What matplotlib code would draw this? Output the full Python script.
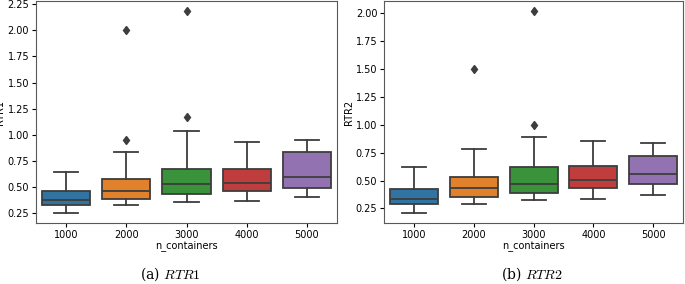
import matplotlib
matplotlib.use("Agg")
import matplotlib.pyplot as plt
import seaborn as sns

CATEGORIES = ["1000", "2000", "3000", "4000", "5000"]

# RTR1 box statistics
RTR1_WHISLO = [0.247, 0.323, 0.358, 0.365, 0.403]
RTR1_Q1 = [0.323, 0.381, 0.432, 0.461, 0.492]
RTR1_MED = [0.371, 0.457, 0.524, 0.537, 0.598]
RTR1_Q3 = [0.464, 0.575, 0.671, 0.668, 0.830]
RTR1_WHISHI = [0.645, 0.837, 1.038, 0.929, 0.952]
RTR1_FLIERS = [[], [0.948, 2.008], [1.172, 2.183], [], []]

# RTR2 box statistics
RTR2_WHISLO = [0.211, 0.292, 0.324, 0.333, 0.372]
RTR2_Q1 = [0.289, 0.351, 0.393, 0.429, 0.465]
RTR2_MED = [0.333, 0.432, 0.468, 0.504, 0.563]
RTR2_Q3 = [0.423, 0.536, 0.626, 0.632, 0.722]
RTR2_WHISHI = [0.620, 0.787, 0.895, 0.853, 0.835]
RTR2_FLIERS = [[], [1.498], [1.000, 2.020], [], []]

plt.rcParams["mathtext.fontset"] = "cm"

colors = sns.color_palette("tab10", 5, desat=0.75)
edge = (0.24, 0.24, 0.24)


def draw(ax, lo, q1, med, q3, hi, fliers, ylabel, ylim, yticks):
    stats = []
    for i, name in enumerate(CATEGORIES):
        stats.append({"whislo": lo[i], "q1": q1[i], "med": med[i], "q3": q3[i],
                      "whishi": hi[i], "fliers": fliers[i], "label": name})
    bp = ax.bxp(stats, positions=range(len(CATEGORIES)), widths=0.8, patch_artist=True,
                boxprops=dict(edgecolor=edge, linewidth=1.3),
                medianprops=dict(color=edge, linewidth=1.3),
                whiskerprops=dict(color=edge, linewidth=1.3),
                capprops=dict(color=edge, linewidth=1.3),
                flierprops=dict(marker="d", markerfacecolor=edge, markeredgecolor=edge,
                                markersize=4.5))
    for patch, c in zip(bp["boxes"], colors):
        patch.set_facecolor(c)
    for cap in bp["caps"]:
        x = cap.get_xdata()
        m = (x[0] + x[1]) / 2
        cap.set_xdata([m - 0.2, m + 0.2])
    ax.set_xlim(-0.5, 4.5)
    ax.set_ylim(*ylim)
    ax.set_yticks(yticks)
    ax.set_xticks(range(len(CATEGORIES)))
    ax.set_xticklabels(CATEGORIES)
    ax.tick_params(labelsize=7, length=3, width=0.8, pad=2)
    ax.set_xlabel("n_containers", fontsize=7, labelpad=0)
    ax.set_ylabel(ylabel, fontsize=7, labelpad=1.5)
    for s in ax.spines.values():
        s.set_linewidth(0.8)
        s.set_color("0.35")


fig = plt.figure(figsize=(6.85, 2.84), dpi=100)
ax1 = fig.add_axes([0.0526, 0.215, 0.4394, 0.781])
ax2 = fig.add_axes([0.561, 0.215, 0.436, 0.781])

draw(ax1, RTR1_WHISLO, RTR1_Q1, RTR1_MED, RTR1_Q3, RTR1_WHISHI, RTR1_FLIERS,
     "RTR1", (0.154, 2.28), [0.25, 0.5, 0.75, 1.0, 1.25, 1.5, 1.75, 2.0, 2.25])
draw(ax2, RTR2_WHISLO, RTR2_Q1, RTR2_MED, RTR2_Q3, RTR2_WHISHI, RTR2_FLIERS,
     "RTR2", (0.12, 2.11), [0.25, 0.5, 0.75, 1.0, 1.25, 1.5, 1.75, 2.0])

fig.text(0.248, 0.033, "(a) $RTR1$", ha="center", va="center", fontsize=10, family="serif")
fig.text(0.777, 0.033, "(b) $RTR2$", ha="center", va="center", fontsize=10, family="serif")

fig.savefig("out.png", dpi=100)
